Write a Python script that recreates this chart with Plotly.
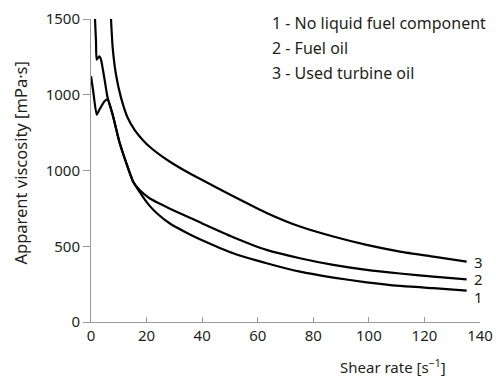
import plotly.graph_objects as go

# Shear rate [1/s] and apparent viscosity [mPa·s]
x1 = [0, 0.8, 2.05, 3.0, 4.8, 6.0, 7.8, 10.2, 12.5, 15.2, 17.6, 19.5, 21.2, 23.7, 28.4, 35.6, 39.2, 51.2, 63.2, 75.2, 87.2, 99.2, 111.2, 123.2, 135.2]
v1 = [1622, 1523, 1368, 1401, 1456, 1470, 1368, 1190, 1060, 925, 855, 805, 765, 718, 650, 578, 547, 454, 388, 332, 293, 262, 238, 223, 207]

x2 = [1.44, 1.8, 2.05, 2.99, 3.6, 4.79, 6.0, 7.8, 10.2, 12.5, 15.2, 17.6, 21.2, 23.7, 28.4, 35.6, 39.2, 51.2, 63.2, 75.2, 87.2, 99.2, 111.2, 123.2, 135.2]
v2 = [2000, 1850, 1732, 1754, 1732, 1611, 1479, 1368, 1190, 1060, 925, 870, 815, 790, 748, 688, 658, 560, 476, 421, 377, 344, 320, 300, 282]

x3 = [7.2, 7.8, 9.0, 10.8, 13.2, 15.8, 18.7, 21.2, 24.8, 28.4, 35.6, 39.2, 51.2, 63.2, 75.2, 87.2, 99.2, 111.2, 123.2, 135.2]
v3 = [2000, 1811, 1632, 1481, 1348, 1265, 1200, 1155, 1103, 1058, 980, 945, 830, 720, 630, 564, 509, 465, 432, 399]

series_names = ["No liquid fuel component", "Fuel oil", "Used turbine oil"]
end_label_y = [165, 284, 397]

y_tickvals = [0, 500, 1000, 1500, 2000]
y_ticktext = ["0", "500", "1000", "1000", "1500"]
x_tickvals = [0, 20, 40, 60, 80, 100, 120, 140]

FONT = "Noto Sans"
TXT = "#231f20"

fig = go.Figure()
for xs, vs, name in zip([x1, x2, x3], [v1, v2, v3], series_names):
    fig.add_trace(go.Scatter(x=xs, y=vs, mode="lines", name=name,
                             line=dict(color="black", width=2.2, shape="spline", smoothing=0.5),
                             showlegend=False, hoverinfo="skip"))

annotations = []
for i, yv in enumerate(end_label_y):
    annotations.append(dict(x=139.6, y=yv, xref="x", yref="y", text=str(i + 1),
                            showarrow=False, xanchor="center", yanchor="middle",
                            font=dict(size=15, color=TXT, family=FONT)))

legend_y = [0.987, 0.904, 0.823]
for i, (name, py) in enumerate(zip(series_names, legend_y)):
    annotations.append(dict(x=0.460, y=py, xref="paper", yref="paper",
                            text=f"{i + 1} - {name}", showarrow=False,
                            xanchor="left", yanchor="middle",
                            font=dict(size=16, color=TXT, family=FONT)))

annotations.append(dict(x=0.918, y=-0.148, xref="paper", yref="paper",
                        text="Shear rate [s<sup>−1</sup>]", showarrow=False,
                        xanchor="right", yanchor="middle",
                        font=dict(size=15, color=TXT, family=FONT)))
annotations.append(dict(x=-0.181, y=0.525, xref="paper", yref="paper",
                        text="Apparent viscosity [mPa·s]", showarrow=False,
                        textangle=-90, xanchor="center", yanchor="middle",
                        font=dict(size=16.5, color=TXT, family=FONT)))

fig.update_layout(
    width=496, height=378,
    margin=dict(l=91, r=16, t=19, b=56, autoexpand=False),
    paper_bgcolor="white", plot_bgcolor="white",
    font=dict(family=FONT, size=15, color=TXT),
    annotations=annotations,
    xaxis=dict(range=[0, 140], tickvals=x_tickvals, showgrid=False, zeroline=False,
               showline=True, linecolor="#9a9a9a", linewidth=1, automargin=False,
               ticks="inside", ticklen=5, tickcolor="#9a9a9a",
               tickfont=dict(size=15, color=TXT, family=FONT)),
    yaxis=dict(range=[0, 2000], tickvals=y_tickvals, ticktext=y_ticktext,
               showgrid=False, zeroline=False, automargin=False,
               showline=True, linecolor="#9a9a9a", linewidth=1,
               ticks="outside", ticklen=7, tickcolor="#9a9a9a",
               tickfont=dict(size=15, color=TXT, family=FONT)),
)

# remove the page's default body margin so the figure fills the window exactly
fig.write_html("out.html",
               config={"displayModeBar": False},
               post_script="document.body.style.margin='0';document.body.style.overflow='hidden';")
